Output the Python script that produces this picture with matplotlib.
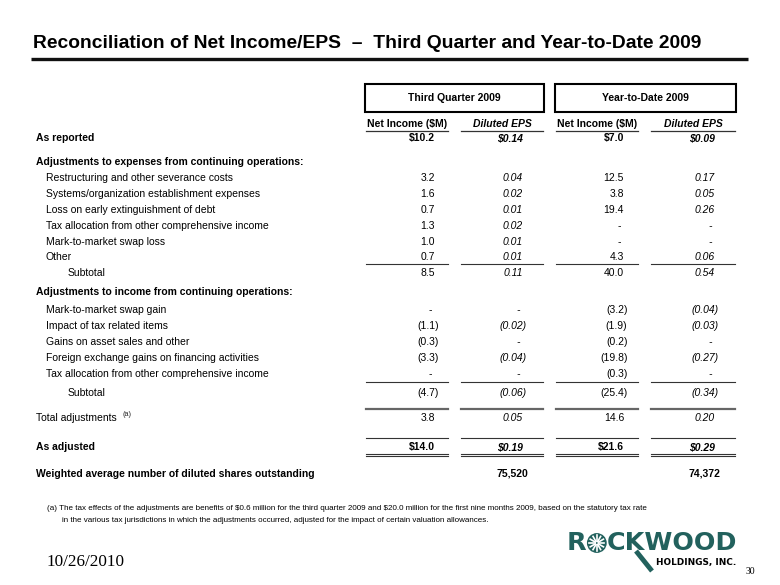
import matplotlib
matplotlib.use('Agg')
import matplotlib.pyplot as plt
from matplotlib.patches import Rectangle, Circle
import numpy as np

title = 'Reconciliation of Net Income/EPS  \u2013  Third Quarter and Year-to-Date 2009'
periods = ['Third Quarter 2009', 'Year-to-Date 2009']
col_heads = ['Net Income ($M)', 'Diluted EPS', 'Net Income ($M)', 'Diluted EPS']

labels = [
    'As reported',
    'Adjustments to expenses from continuing operations:',
    'Restructuring and other severance costs',
    'Systems/organization establishment expenses',
    'Loss on early extinguishment of debt',
    'Tax allocation from other comprehensive income',
    'Mark-to-market swap loss',
    'Other',
    'Subtotal',
    'Adjustments to income from continuing operations:',
    'Mark-to-market swap gain',
    'Impact of tax related items',
    'Gains on asset sales and other',
    'Foreign exchange gains on financing activities',
    'Tax allocation from other comprehensive income',
    'Subtotal',
    'Total adjustments',
    'As adjusted',
    'Weighted average number of diluted shares outstanding',
]
kinds = ['dollar', 'head', 'item', 'item', 'item', 'item', 'item', 'item', 'sub',
         'head', 'item', 'item', 'item', 'item', 'item', 'sub', 'total', 'dollar', 'shares']

# None = blank, 0 = dash
q3_ni = [10.2, None, 3.2, 1.6, 0.7, 1.3, 1.0, 0.7, 8.5,
         None, 0, -1.1, -0.3, -3.3, 0, -4.7, 3.8, 14.0, None]
q3_eps = [0.14, None, 0.04, 0.02, 0.01, 0.02, 0.01, 0.01, 0.11,
          None, 0, -0.02, 0, -0.04, 0, -0.06, 0.05, 0.19, None]
ytd_ni = [7.0, None, 12.5, 3.8, 19.4, 0, 0, 4.3, 40.0,
          None, -3.2, -1.9, -0.2, -19.8, -0.3, -25.4, 14.6, 21.6, None]
ytd_eps = [0.09, None, 0.17, 0.05, 0.26, 0, 0, 0.06, 0.54,
           None, -0.04, -0.03, 0, -0.27, 0, -0.34, 0.20, 0.29, None]
shares = [75520, 74372]

footnote = ['(a) The tax effects of the adjustments are benefits of $0.6 million for the third quarter 2009 '
            'and $20.0 million for the first nine months 2009, based on the statutory tax rate',
            'in the various tax jurisdictions in which the adjustments occurred, adjusted for the impact '
            'of certain valuation allowances.']
date = '10/26/2010'
page = '30'

# layout (pixels)
row_y = [138, 162, 178, 194, 210, 226, 242, 257, 273, 292, 310, 326, 342, 358, 374, 393, 418, 447, 474]
col_r = [435, 523, 624, 715]
col_seg = [(366, 448), (461, 543), (556, 638), (651, 735)]
X_BOLD, X_ITEM, X_SUB = 36, 46, 68
FS = 7.5

plt.rcParams['font.family'] = ['Liberation Sans', 'DejaVu Sans']
plt.rcParams['text.parse_math'] = False

fig = plt.figure(figsize=(7.8, 5.85), dpi=100)
ax = fig.add_axes([0, 0, 1, 1])
ax.set_xlim(0, 780)
ax.set_ylim(585, 0)
ax.axis('off')

# title
ax.text(33, 44, title, fontsize=13.9, weight='bold', va='center')
ax.plot([31, 748], [58.5, 58.5], color='#111111', lw=2.4, solid_capstyle='butt')

# period boxes
for (x0, x1), name in zip([(365, 544), (555, 736)], periods):
    ax.add_patch(Rectangle((x0, 84), x1 - x0, 28, fill=False, ec='black', lw=1.5))
    ax.text((x0 + x1) / 2, 98, name, ha='center', va='center', fontsize=FS, weight='bold')

for i, (a, b) in enumerate(col_seg):
    ax.text((a + b) / 2, 124, col_heads[i], ha='center', va='center', fontsize=FS,
            weight='bold', style='italic' if i % 2 else 'normal')
    ax.plot([a, b], [130.5, 130.5], color='#333333', lw=0.9)


def fmt(v, dec, dollar):
    if v is None:
        return ''
    if v == 0:
        return '-'
    s = f'{abs(v):.{dec}f}'
    if dollar:
        s = '$' + s
    return f'({s})' if v < 0 else s


fig.canvas.draw()
rend = fig.canvas.get_renderer()
inv = ax.transData.inverted()

cols = [q3_ni, q3_eps, ytd_ni, ytd_eps]
for r, (lab, kind, y) in enumerate(zip(labels, kinds, row_y)):
    bold = kind in ('dollar', 'head', 'shares')
    x = {'item': X_ITEM, 'sub': X_SUB}.get(kind, X_BOLD)
    t = ax.text(x, y, lab, va='center', fontsize=FS, weight='bold' if bold else 'normal')
    if kind == 'total':
        xe = inv.transform((t.get_window_extent(rend).x1, 0))[0]
        ax.text(xe + 6, y - 4, '(a)', va='center', fontsize=5.2, color='#222222')
    for c, vals in enumerate(cols):
        v = vals[r]
        if v is None:
            continue
        s = fmt(v, 2 if c % 2 else 1, kind == 'dollar')
        xr = col_r[c]
        if s == '-':
            xr -= 3
        elif s.startswith('('):
            xr += 3.5
        ax.text(xr, y, s, ha='right', va='center', fontsize=FS,
                weight='bold' if kind == 'dollar' else 'normal',
                style='italic' if c % 2 else 'normal')
    if kind == 'shares':
        for c, n in zip([1, 3], shares):
            ax.text(col_r[c] + 5, y, f'{n:,}', ha='right', va='center', fontsize=FS, weight='bold')

# rules under table rows
for a, b in col_seg:
    ax.plot([a, b], [264, 264], color='#333333', lw=0.8)
    ax.plot([a, b], [382, 382], color='#333333', lw=0.8)
    ax.plot([a, b], [408.5, 408.5], color='#666666', lw=1.6)
    ax.plot([a, b], [438, 438], color='#333333', lw=0.8)
    ax.plot([a, b], [453.5, 453.5], color='#333333', lw=0.8)
    ax.plot([a, b], [456, 456], color='#333333', lw=0.8)

# footnote
ax.text(47, 509, footnote[0], va='center', fontsize=5.8)
ax.text(62, 520, footnote[1], va='center', fontsize=5.8)

# date and page
ax.text(47, 562, date, va='center', fontsize=12.3, family='Liberation Serif')
ax.text(746, 571, page, va='center', fontsize=7, family='Liberation Serif')

# logo
teal = '#22615d'
LF = 18.3
tr = ax.text(567, 543, 'R', va='center', fontsize=LF, weight='bold', family='DejaVu Sans', color=teal)
bb = tr.get_window_extent(rend)
rx = inv.transform((bb.x1, bb.y0))[0]
rad = 9.2
cx, cy = rx + rad + 1, 543
ax.add_patch(Circle((cx, cy), rad, color=teal))
for ang in np.linspace(0, 2 * np.pi, 12, endpoint=False):
    ax.plot([cx + 1.8 * np.cos(ang), cx + 7.6 * np.cos(ang)],
            [cy + 1.8 * np.sin(ang), cy + 7.6 * np.sin(ang)], color='white', lw=1.2)
ax.text(cx + rad + 0.5, 543, 'CKWOOD', va='center', fontsize=LF, weight='bold',
        family='DejaVu Sans', color=teal)
ax.plot([636, 652], [551, 571], color=teal, lw=3.5, solid_capstyle='butt')
ax.text(656, 563, 'HOLDINGS, INC.', va='center', fontsize=6.4, weight='bold', family='DejaVu Sans')

fig.savefig('out.png', dpi=100, facecolor='white')
